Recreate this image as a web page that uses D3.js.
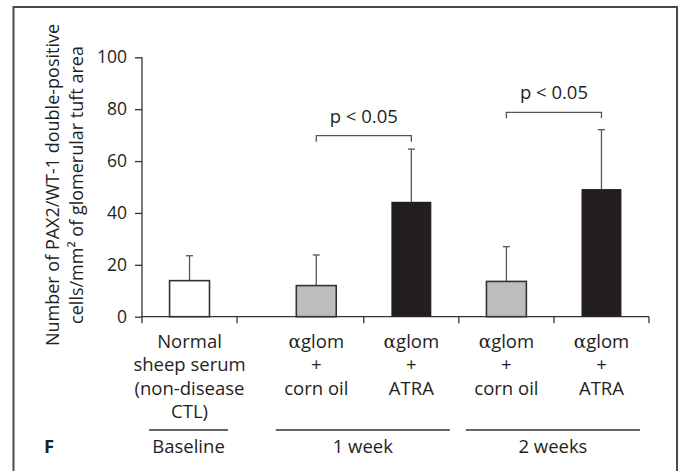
<!DOCTYPE html>
<html>
<head>
<meta charset="utf-8">
<script src="https://cdn.jsdelivr.net/npm/d3@7"></script>
<style>
  html, body { margin: 0; padding: 0; background: #fff; }
  svg text { font-family: "Open Sans", "Noto Sans", sans-serif; fill: #231f20; }
  .alpha { font-family: "DejaVu Serif", "Liberation Serif", serif; }
</style>
</head>
<body>
<svg id="chart" width="683" height="471"></svg>
<script>
// Treatment groups, one bar each
const categories = ["Normal sheep serum (non-disease CTL)", "αglom + corn oil (1 week)", "αglom + ATRA (1 week)", "αglom + corn oil (2 weeks)", "αglom + ATRA (2 weeks)"];
const categoryLines = [
  ["Normal", "sheep serum", "(non-disease", "CTL)"],
  ["αglom", "+", "corn oil"],
  ["αglom", "+", "ATRA"],
  ["αglom", "+", "corn oil"],
  ["αglom", "+", "ATRA"]
];
const means = [13.9, 12.0, 44.3, 13.6, 49.2];
const errorTops = [23.5, 23.8, 64.6, 27.0, 72.1];
const barKinds = ["control", "vehicle", "atra", "vehicle", "atra"];

// Time points grouping the bars
const groups = ["Baseline", "1 week", "2 weeks"];
const groupMembers = [[0], [1, 2], [3, 4]];

// Significance brackets: [from bar, to bar, bracket level]
const brackets = [[1, 2, 69.8], [3, 4, 78.8]];
const bracketText = "p < 0.05";

const yTicks = [0, 20, 40, 60, 80, 100];

const svg = d3.select("#chart");

// outer frame (open at the bottom)
svg.append("path")
  .attr("d", "M13.5,471 V7 H677 V471")
  .attr("fill", "none").attr("stroke", "#4a4a4a").attr("stroke-width", 2);

// x positions in slot units; the baseline slot is set apart from the rest
const slotStart = i => i + (i > 0 ? 1 / 3 : 0);
const slotEnd = i => slotStart(i) + 1;
const x = d3.scaleLinear().domain([0, slotEnd(categories.length - 1)]).range([142, 649]);
const y = d3.scaleLinear().domain([0, 100]).range([316.7, 57.3]);
const center = i => x(slotStart(i) + 0.5);
const barW = (x(1) - x(0)) * 0.42;

const fill = { control: "#ffffff", vehicle: "#bdbdbd", atra: "#231f20" };

// y axis
const yAxis = svg.append("g").attr("transform", `translate(${x(0)},0)`)
  .call(d3.axisLeft(y).tickValues(yTicks).tickSize(7).tickPadding(8).tickSizeOuter(0));
yAxis.select(".domain").remove();
yAxis.append("line").attr("x1", 0).attr("x2", 0).attr("y1", y(100)).attr("y2", y(0) + 6.5)
  .attr("stroke", "#333").attr("stroke-width", 1.3);
yAxis.selectAll(".tick line").attr("stroke", "#333").attr("stroke-width", 1.3);
yAxis.selectAll(".tick text").attr("font-size", 17.5).style("fill", "#231f20")
  .attr("font-family", "'Open Sans', sans-serif");

// x axis baseline with ticks at slot boundaries
const xBounds = [0].concat(categories.map((c, i) => slotEnd(i)));
svg.append("line").attr("x1", x(0)).attr("x2", x(xBounds[xBounds.length - 1]))
  .attr("y1", y(0)).attr("y2", y(0)).attr("stroke", "#333").attr("stroke-width", 1.3);
svg.selectAll(".xtick").data(xBounds.slice(1)).join("line")
  .attr("class", "xtick")
  .attr("x1", d => x(d)).attr("x2", d => x(d))
  .attr("y1", y(0)).attr("y2", y(0) + 6.5)
  .attr("stroke", "#333").attr("stroke-width", 1.3);

// error bars (upper whisker only)
const eb = svg.append("g").attr("stroke", "#555").attr("stroke-width", 1.3);
categories.forEach((c, i) => {
  eb.append("line").attr("x1", center(i)).attr("x2", center(i))
    .attr("y1", y(means[i])).attr("y2", y(errorTops[i]));
  eb.append("line").attr("x1", center(i) - 3.5).attr("x2", center(i) + 3.5)
    .attr("y1", y(errorTops[i])).attr("y2", y(errorTops[i]));
});

// bars
svg.selectAll(".bar").data(means).join("rect")
  .attr("class", "bar")
  .attr("x", (d, i) => center(i) - barW / 2)
  .attr("width", barW)
  .attr("y", d => y(d))
  .attr("height", d => y(0) - y(d))
  .attr("fill", (d, i) => fill[barKinds[i]])
  .attr("stroke", (d, i) => barKinds[i] === "atra" ? "none" : "#333")
  .attr("stroke-width", 1.6);

// significance brackets
brackets.forEach(([a, b, lvl]) => {
  const yb = y(lvl);
  svg.append("path")
    .attr("d", `M${center(a)},${yb + 6} V${yb} H${center(b)} V${yb + 6}`)
    .attr("fill", "none").attr("stroke", "#555").attr("stroke-width", 1.3);
  svg.append("text").attr("x", (center(a) + center(b)) / 2).attr("y", yb - 13)
    .attr("text-anchor", "middle").attr("font-size", 18.5).text(bracketText);
});

// category labels, several lines each
const lineH = 23.3;
categoryLines.forEach((lines, i) => {
  const t = svg.append("text").attr("text-anchor", "middle").attr("font-size", 18.5);
  lines.forEach((ln, k) => {
    const ts = t.append("tspan").attr("x", center(i)).attr("y", 348 + k * lineH);
    if (ln.startsWith("α")) {
      ts.append("tspan").attr("class", "alpha").text("α");
      ts.append("tspan").text(ln.slice(1));
    } else {
      ts.text(ln);
    }
  });
});

// group rules and names
groups.forEach((g, gi) => {
  const m = groupMembers[gi];
  const x0 = x(slotStart(m[0])) + 7;
  const x1 = x(slotEnd(m[m.length - 1])) - 9;
  svg.append("line").attr("x1", x0).attr("x2", x1).attr("y1", 430).attr("y2", 430)
    .attr("stroke", "#333").attr("stroke-width", 1.3);
  svg.append("text").attr("x", (x0 + x1) / 2).attr("y", 453)
    .attr("text-anchor", "middle").attr("font-size", 18.5).text(g);
});

// panel letter
svg.append("text").attr("x", 44).attr("y", 453).attr("font-size", 18.5)
  .attr("font-weight", "bold").text("F");

// y axis title, two lines
const yt = svg.append("text").attr("transform", "translate(0,185) rotate(-90)")
  .attr("text-anchor", "middle").attr("font-size", 18);
yt.append("tspan").attr("x", 0).attr("y", 59).text("Number of PAX2/WT-1 double-positive");
yt.append("tspan").attr("x", 0).attr("y", 83).text("cells/mm² of glomerular tuft area");
</script>
</body>
</html>
